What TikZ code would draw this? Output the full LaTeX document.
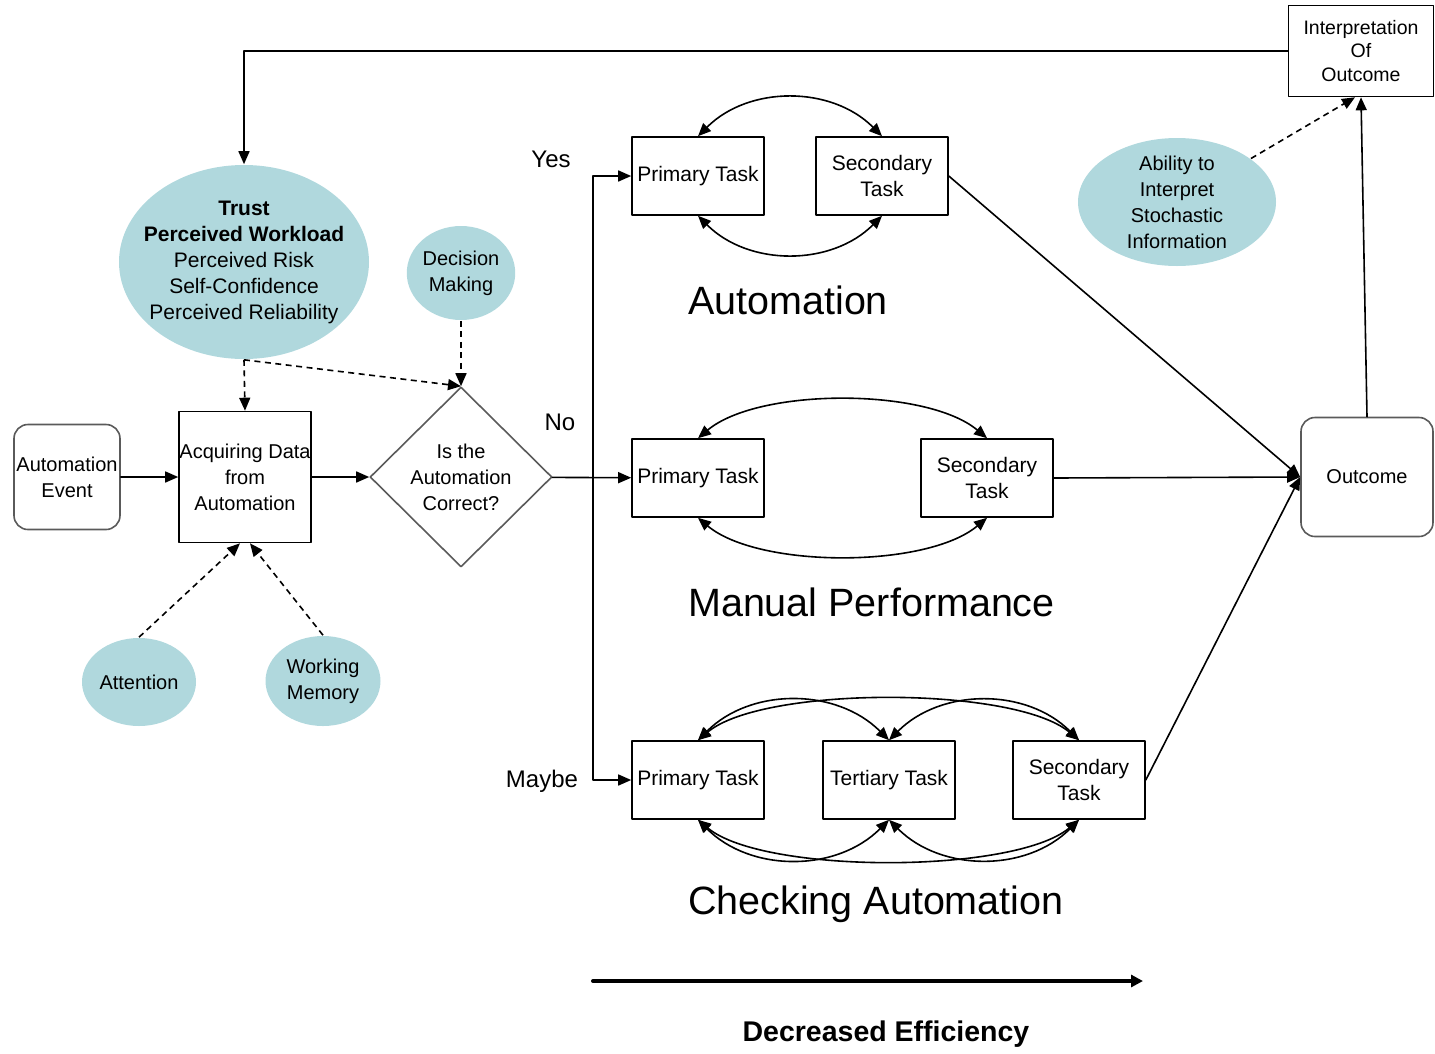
\documentclass[tikz,border=0pt]{standalone}
\usepackage{fontspec}
\setmainfont{Liberation Sans}
\usetikzlibrary{shapes.geometric,arrows.meta}
\definecolor{bubblefill}{RGB}{176,216,221}
\definecolor{edgegray}{RGB}{90,90,90}
\tikzset{
  box/.style={draw,inner sep=0pt,align=center,font=\fontsize{20}{26}\selectfont},
  task/.style={box,minimum width=132pt,minimum height=78pt,font=\fontsize{21}{26}\selectfont},
  rbox/.style={box,draw=edgegray,rounded corners=14pt},
  bubble/.style={ellipse,fill=bubblefill,inner sep=0pt,align=center,font=\fontsize{20}{26}\selectfont},
  decide/.style={diamond,draw=edgegray,inner sep=0pt,minimum width=182pt,minimum height=180pt,align=center,font=\fontsize{20}{26}\selectfont},
  lbl/.style={font=\fontsize{24}{28}\selectfont},
  big/.style={anchor=west,font=\fontsize{39.5}{44}\selectfont},
  dashline/.style={dash pattern=on 6pt off 4.5pt,line cap=butt}
}
\begin{document}
\begin{tikzpicture}[line cap=round,line join=round,x=1pt,y=-1pt,line width=1.6pt,>={Triangle[length=13pt,width=11pt]}]
\useasboundingbox (0,0) rectangle (1435,1053);
\node[rbox,minimum width=106pt,minimum height=105pt] (event) at (67,477) {Automation\\Event};
\node[box,minimum width=132pt,minimum height=131pt] (acq) at (245,477) {Acquiring Data\\from\\Automation};
\node[decide] (check) at (461,477) {Is the\\Automation\\Correct?};
\node[bubble,minimum width=250pt,minimum height=194pt,inner xsep=-12pt,inner ysep=4pt,font=\fontsize{21}{26}\selectfont] (trust) at (244,262) {\textbf{Trust}\\\textbf{Perceived Workload}\\Perceived Risk\\Self-Confidence\\Perceived Reliability};
\node[bubble,minimum width=104pt,minimum height=94pt] (decmk) at (461,273) {Decision\\Making};
\node[bubble,minimum width=114pt,minimum height=88pt] (atten) at (139,682) {Attention};
\node[bubble,minimum width=115pt,minimum height=90pt] (wmem) at (323,681) {Working\\Memory};
\node[task] (pa) at (698,176) {Primary Task};
\node[task] (sa) at (882,176) {Secondary\\Task};
\node[task] (pm) at (698,478) {Primary Task};
\node[task] (sm) at (987,478) {Secondary\\Task};
\node[task] (pc) at (698,780) {Primary Task};
\node[task] (tc) at (889,780) {Tertiary Task};
\node[task] (sc) at (1079,780) {Secondary\\Task};
\node[rbox,minimum width=132pt,minimum height=119pt] (outc) at (1367,477) {Outcome};
\node[box,minimum width=145pt,minimum height=91pt,font=\fontsize{19.5}{23.5}\selectfont] (interp) at (1361,51) {Interpretation\\Of\\Outcome};
\node[bubble,minimum width=198pt,minimum height=128pt,inner ysep=-4pt] (abil) at (1177,202) {Ability to\\Interpret\\Stochastic\\Information};
\node[lbl] (yes) at (551,159) {Yes};
\node[lbl] (no) at (560,422) {No};
\node[lbl] (maybe) at (542,781) {Maybe};
\node[big] (autolbl) at (684,300) {Automation};
\node[big] (manlbl) at (684,602) {Manual Performance};
\node[big] (chklbl) at (684,904) {Checking Automation};
\coordinate (fork) at (593,478);
\coordinate (effs) at (593,981);
\coordinate (effe) at (1143,981);
\node[font=\fontsize{28.5}{32}\selectfont\bfseries] (efflbl) at (886,1034) {Decreased Efficiency};
\draw[->] (event) -- (acq);
\draw[->] (acq) -- (check);
\draw[->] (check) -- (pm);
\draw[<->] (pa.west) -| (fork) |- (pc.west);
\draw[->] (sa.east) -- (outc.west);
\draw[->] (sm.east) -- (outc.west);
\draw[->] (sc.east) -- (outc.west);
\draw[->] (outc.north) -- (interp.south);
\draw[->] (interp) -| (trust);
\draw[dashline,->] (abil) -- ([xshift=-6pt]interp.south);
\draw[dashline,->] (trust.south) -- (acq.north);
\draw[dashline,->] (trust.south) -- (check.north);
\draw[dashline,->] (decmk) -- (check.north);
\draw[dashline,->] (atten.north) -- ([xshift=-5pt]acq.south);
\draw[dashline,->] (wmem.north) -- ([xshift=5pt]acq.south);
\draw[<->] (pa.north) to[bend left=45] (sa.north);
\draw[<->] (pa.south) to[bend right=45] (sa.south);
\draw[<->] (pm.north) to[bend left=40,looseness=0.7] (sm.north);
\draw[<->] (pm.south) to[bend right=40,looseness=0.7] (sm.south);
\draw[<->] (pc.north) to[bend left=45] (tc.north);
\draw[<->] (tc.north) to[bend left=45] (sc.north);
\draw[<->] (pc.north) to[bend left=40,looseness=0.57] (sc.north);
\draw[<->] (pc.south) to[bend right=45] (tc.south);
\draw[<->] (tc.south) to[bend right=45] (sc.south);
\draw[<->] (pc.south) to[bend right=40,looseness=0.57] (sc.south);
\draw[->,line width=4pt,>={Triangle[length=12pt,width=12pt]}] (effs) -- (effe);
\end{tikzpicture}
\end{document}
